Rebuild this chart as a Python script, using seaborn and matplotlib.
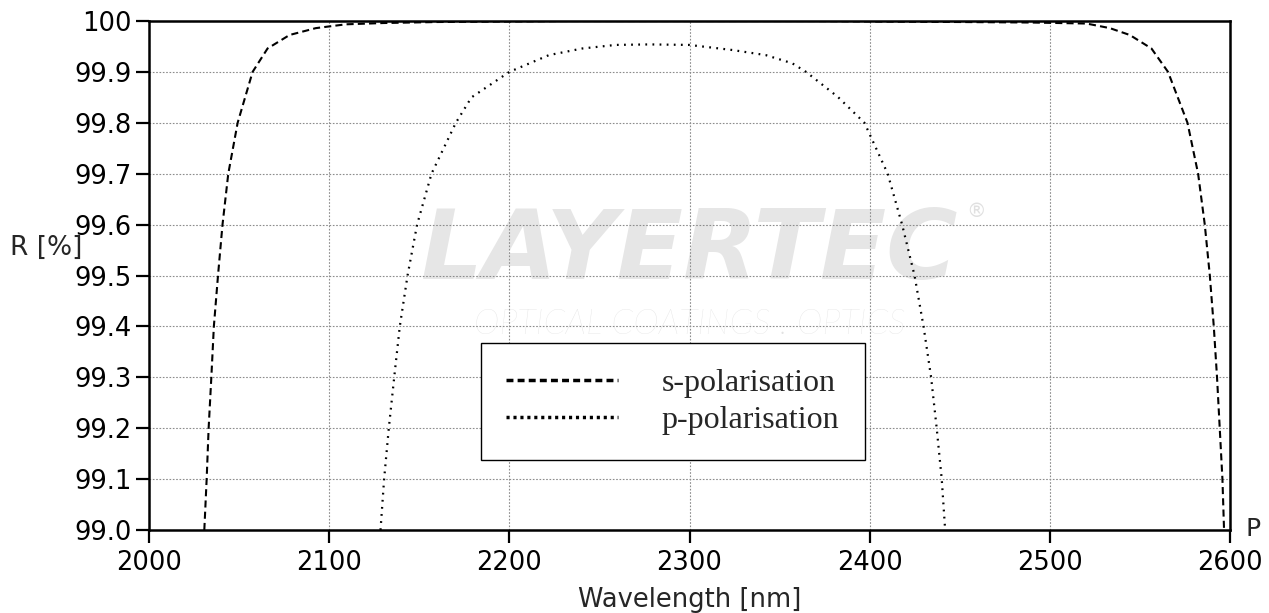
import matplotlib
matplotlib.use("Agg")
import matplotlib.pyplot as plt
import seaborn as sns

# s-polarisation
s_wl = [2030.7, 2032.0, 2033.1, 2034.6, 2036.0, 2038.3, 2040.8, 2044.0, 2049.2, 2057.5,
        2065.8, 2078.0, 2092.6, 2109.3, 2130.0, 2160.0, 2200.0, 2230.0, 2300.0, 2370.0,
        2400.0, 2450.0, 2490.0, 2520.4, 2533.3, 2544.4, 2556.4, 2565.6, 2576.4, 2582.3,
        2586.0, 2588.8, 2591.0, 2592.8, 2594.3, 2595.8, 2596.7]
s_r = [99.0, 99.1, 99.2, 99.3, 99.4, 99.5, 99.6, 99.7, 99.8, 99.9,
       99.946, 99.9725, 99.986, 99.9935, 99.996, 99.998, 99.999, 100.0, 100.0, 100.0,
       99.999, 99.998, 99.997, 99.995, 99.986, 99.9725, 99.946, 99.9, 99.8, 99.7,
       99.6, 99.5, 99.4, 99.3, 99.2, 99.1, 99.0]

# p-polarisation
p_wl = [2128.5, 2130.5, 2133.1, 2136.1, 2139.2, 2143.5, 2148.8, 2156.8, 2170.3, 2179.0,
        2200.0, 2222.0, 2240.5, 2259.0, 2277.6, 2299.8, 2323.8, 2342.3, 2357.0, 2364.7,
        2382.3, 2397.1, 2410.0, 2418.0, 2424.9, 2429.9, 2434.1, 2437.2, 2440.0, 2441.9]
p_r = [99.0, 99.1, 99.2, 99.3, 99.4, 99.5, 99.6, 99.7, 99.8, 99.85,
       99.9, 99.933, 99.946, 99.953, 99.954, 99.953, 99.943, 99.933, 99.917, 99.9,
       99.851, 99.8, 99.7, 99.6, 99.5, 99.4, 99.3, 99.2, 99.1, 99.0]

x_ticks = [2000, 2100, 2200, 2300, 2400, 2500, 2600]
y_ticks = [99.0, 99.1, 99.2, 99.3, 99.4, 99.5, 99.6, 99.7, 99.8, 99.9, 100.0]
y_tick_labels = ["99.0", "99.1", "99.2", "99.3", "99.4", "99.5", "99.6", "99.7", "99.8", "99.9", "100"]

sns.set_style("white")
plt.rcParams['font.family'] = ['DejaVu Sans']

fig = plt.figure(figsize=(12.69, 6.13), dpi=100)
ax = fig.add_axes([149 / 1269, 1 - 530 / 613, (1230 - 149) / 1269, (530 - 21) / 613])

sns.lineplot(x=s_wl, y=s_r, ax=ax, color="black", lw=1.5, linestyle=(0, (3.4, 2.0)),
             label="s-polarisation", sort=False, zorder=3)
sns.lineplot(x=p_wl, y=p_r, ax=ax, color="black", lw=1.6, linestyle=(0, (0.8, 2.4)),
             label="p-polarisation", sort=False, zorder=3)

ax.set_xlim(2000, 2600)
ax.set_ylim(99.0, 100.0)
ax.set_xticks(x_ticks)
ax.set_yticks(y_ticks)
ax.set_yticklabels(y_tick_labels)
ax.tick_params(axis="both", direction="out", length=9.5, width=1.6, labelsize=18.5,
               color="black", labelcolor="black", pad=3,
               bottom=True, left=True, top=False, right=False)
ax.tick_params(axis="x", pad=5)
ax.set_xlabel("")
ax.set_ylabel("")

ax.grid(True, color="#8c8c8c", linestyle=(0, (1.5, 1.5)), lw=0.8)
for sp in ax.spines.values():
    sp.set_color("black")
    sp.set_linewidth(1.8)
    sp.set_zorder(4)

# watermark
ax.text(0.50, 0.545, "LAYERTEC", transform=ax.transAxes, ha="center", va="center",
        fontsize=70, fontweight="bold", fontstyle="italic", color="#e6e6e6", zorder=0.5)
ax.text(0.50, 0.403, "OPTICAL COATINGS . OPTICS", transform=ax.transAxes, ha="center",
        va="center", fontsize=25, family=["Lato", "DejaVu Sans"], fontweight="light",
        fontstyle="italic", color="#e2e2e2", zorder=0.5)
ax.text(0.765, 0.625, "®", transform=ax.transAxes, ha="center", va="center",
        fontsize=14, color="#e0e0e0", zorder=0.5)

leg = ax.legend(loc="upper left", bbox_to_anchor=(0.307, 0.3674), frameon=True,
                fancybox=False, edgecolor="black", framealpha=1,
                prop={"family": ["Liberation Serif", "DejaVu Serif"], "size": 23},
                handlelength=3.5, handletextpad=1.35, borderpad=0.8, labelspacing=0.24,
                borderaxespad=0)
leg.get_frame().set_linewidth(1.0)
leg.set_zorder(5)
leg_lines = leg.get_lines()
leg_lines[0].set_linewidth(2.5)
leg_lines[0].set_linestyle((0, (2.0, 1.2)))
leg_lines[1].set_linewidth(2.5)
leg_lines[1].set_linestyle((0, (0.9, 1.1)))

fig.text(10 / 1269, 1 - 248 / 613, "R [%]", ha="left", va="center", fontsize=19)
fig.text(689.5 / 1269, 1 - 600 / 613, "Wavelength [nm]", ha="center", va="center", fontsize=18.5)
fig.text(1245 / 1269, 1 - 529 / 613, "P", ha="left", va="center", fontsize=18)

fig.savefig("out.png", dpi=100, facecolor="white")
